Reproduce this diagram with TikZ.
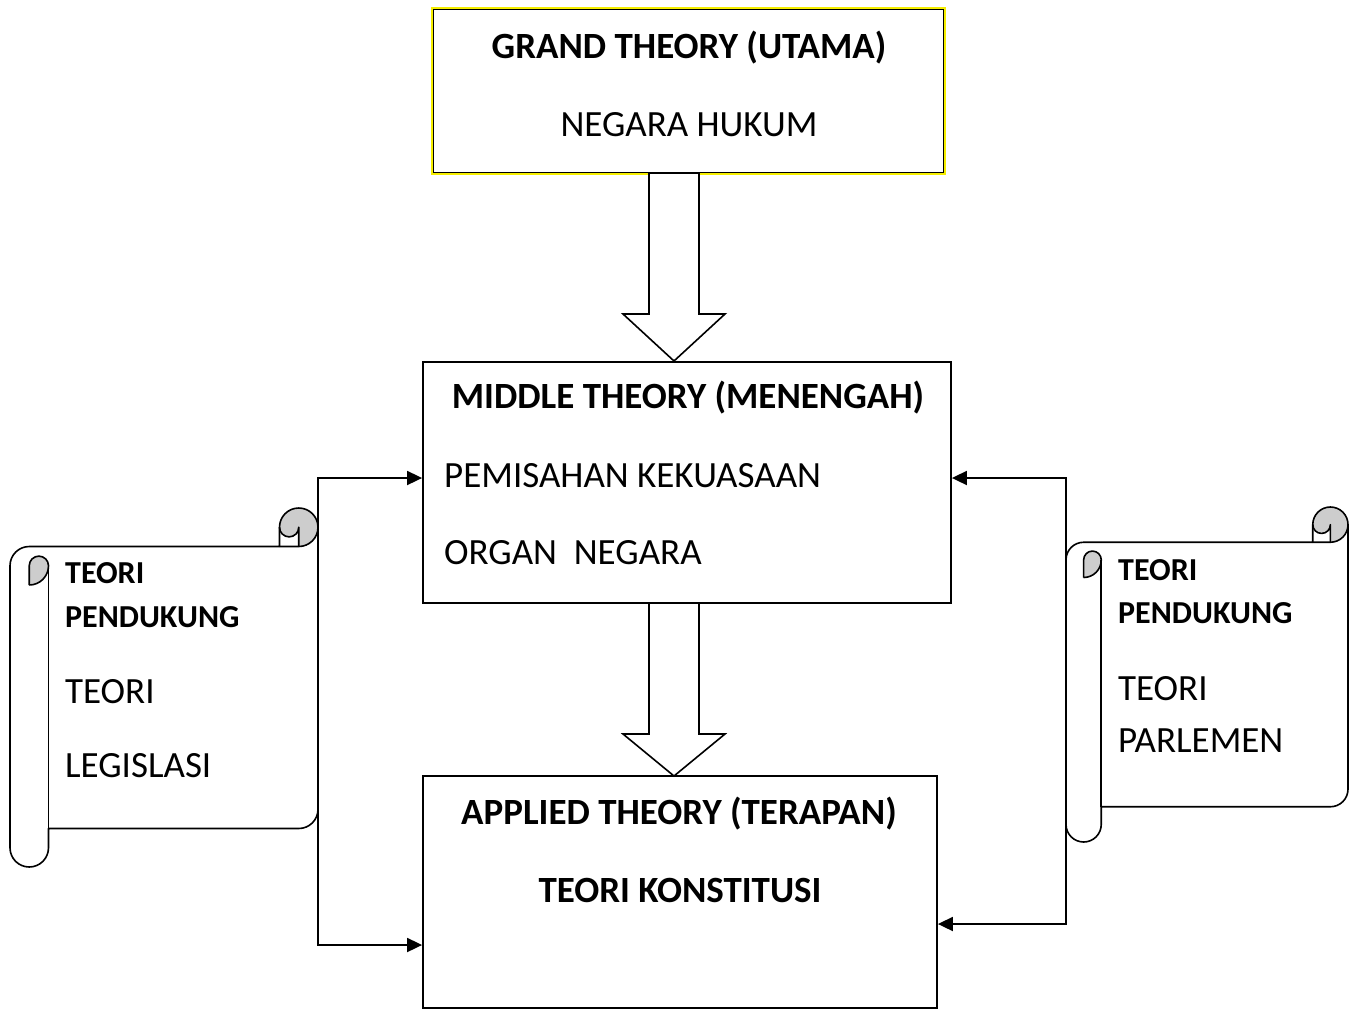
\documentclass[tikz,border=0pt]{standalone}
\usepackage{fontspec}
\setmainfont{Carlito}
\usetikzlibrary{arrows.meta,calc}
\definecolor{curlgrey}{RGB}{205,205,205}
\definecolor{edgeyellow}{RGB}{245,238,0}
\newcommand\drawscroll[4]{%
 \pgfmathsetmacro\scL{#1}\pgfmathsetmacro\scT{#2}\pgfmathsetmacro\scR{#3}\pgfmathsetmacro\scB{#4}%
 \pgfmathsetmacro\scC{min(#3-#1,#4-#2)/8}%
 \pgfmathsetmacro\scH{\scC/2}\pgfmathsetmacro\scQ{\scC/4}%
 \def\scrollpath{(\scL,\scT+\scC+\scH) arc[start angle=180,delta angle=90,radius=\scH] -- (\scR-\scC,\scT+\scC) -- (\scR-\scC,\scT+\scH) arc[start angle=180,delta angle=180,radius=\scH] -- (\scR,\scB-\scC-\scH) arc[start angle=0,delta angle=90,radius=\scH] -- (\scL+\scC,\scB-\scC) -- (\scL+\scC,\scB-\scH) arc[start angle=0,delta angle=180,radius=\scH] -- cycle}%
 \fill[white] \scrollpath;
 \fill[curlgrey] (\scL+\scH,\scT+2*\scC) arc[start angle=90,delta angle=-90,radius=\scH] arc[start angle=0,delta angle=-180,radius=\scQ] -- cycle;
 \fill[curlgrey] (\scR-\scH,\scT+\scC) arc[start angle=90,delta angle=-270,radius=\scH] arc[start angle=180,delta angle=-180,radius=\scQ] -- cycle;
 \draw[scrollline] \scrollpath;
 \draw[scrollline] (\scR-\scC,\scT+\scC) -- (\scR-\scH,\scT+\scC) arc[start angle=90,delta angle=-90,radius=\scH];
 \draw[scrollline] (\scR-\scH,\scT+\scC) -- (\scR-\scH,\scT+\scH) arc[start angle=0,delta angle=180,radius=\scQ];
 \draw[scrollline] (\scL+\scH,\scT+2*\scC) -- (\scL+\scH,\scT+\scC+\scH) arc[start angle=180,delta angle=180,radius=\scQ] arc[start angle=0,delta angle=90,radius=\scH];
 \draw[scrollline] (\scL+\scC,\scT+\scC+\scH) -- (\scL+\scC,\scB-\scC);
}
\begin{document}
\begin{tikzpicture}[x=1pt,y=-1pt,
  theorybox/.style={draw=black,line width=1.8pt,fill=white,inner sep=0pt},
  scrollline/.style={draw=black,line width=1.6pt,line join=round},
  blockarrow/.style={draw=black,line width=1.6pt,fill=white,line join=miter},
  conn/.style={draw=black,line width=1.8pt,{Triangle[length=15pt,width=14pt]}-{Triangle[length=15pt,width=14pt]}},
  bigtxt/.style={inner sep=0pt,font=\fontsize{37}{44}\selectfont},
  bigbold/.style={inner sep=0pt,font=\fontsize{37}{44}\selectfont\bfseries},
  smallbold/.style={inner sep=0pt,font=\fontsize{32}{38}\selectfont\bfseries}]
\useasboundingbox (0,0) rectangle (1351,1009);
% top box with yellow edge
\draw[edgeyellow,line width=1.6pt] (432,8) rectangle (945,174);
\node[theorybox,minimum width=510pt,minimum height=163pt] (grand) at (688.5,91) {};
\node[theorybox,minimum width=528pt,minimum height=241pt] (middle) at (687,482.5) {};
\node[theorybox,minimum width=514pt,minimum height=232pt] (applied) at (680,892) {};
% block arrows
\draw[blockarrow] (649,173) -- (649,314) -- (623,314) -- (674,361) -- (725,314) -- (699,314) -- (699,173) -- cycle;
\draw[blockarrow] (649,603) -- (649,734) -- (623,734) -- (674,776) -- (725,734) -- (699,734) -- (699,603) -- cycle;
% scrolls
\drawscroll{10}{508}{318}{867}
\drawscroll{1066}{507}{1348}{842}
% connectors
\coordinate (lt) at (318,478);
\coordinate (lb) at (318,945);
\coordinate (rt) at (1066,478);
\coordinate (rb) at (1066,924);
\draw[conn] (lt -| middle.west) -- (lt) -- (lb) -- (lb -| applied.west);
\draw[conn] (rt -| middle.east) -- (rt) -- (rb) -- (rb -| applied.east);
% texts
\node[bigbold,anchor=base] (t1) at (689,58) {GRAND THEORY (UTAMA)};
\node[bigtxt,anchor=base] (t2) at (689,136) {NEGARA HUKUM};
\node[bigbold,anchor=base] (t3) at (688,408) {MIDDLE THEORY (MENENGAH)};
\node[bigtxt,anchor=base west] (t4) at (444,487) {PEMISAHAN KEKUASAAN};
\node[bigtxt,anchor=base west] (t5) at (444,564) {ORGAN\ \ NEGARA};
\node[bigbold,anchor=base] (t6) at (679,824) {APPLIED THEORY (TERAPAN)};
\node[bigbold,anchor=base] (t7) at (680,902) {TEORI KONSTITUSI};
\node[smallbold,anchor=base west] (l1) at (65,583) {TEORI};
\node[smallbold,anchor=base west] (l2) at (65,627) {PENDUKUNG};
\node[bigtxt,anchor=base west] (l3) at (65,703) {TEORI};
\node[bigtxt,anchor=base west] (l4) at (65,777) {LEGISLASI};
\node[smallbold,anchor=base west] (r1) at (1118,580) {TEORI};
\node[smallbold,anchor=base west] (r2) at (1118,623) {PENDUKUNG};
\node[bigtxt,anchor=base west] (r3) at (1118,700) {TEORI};
\node[bigtxt,anchor=base west] (r4) at (1118,752) {PARLEMEN};
\end{tikzpicture}
\end{document}
